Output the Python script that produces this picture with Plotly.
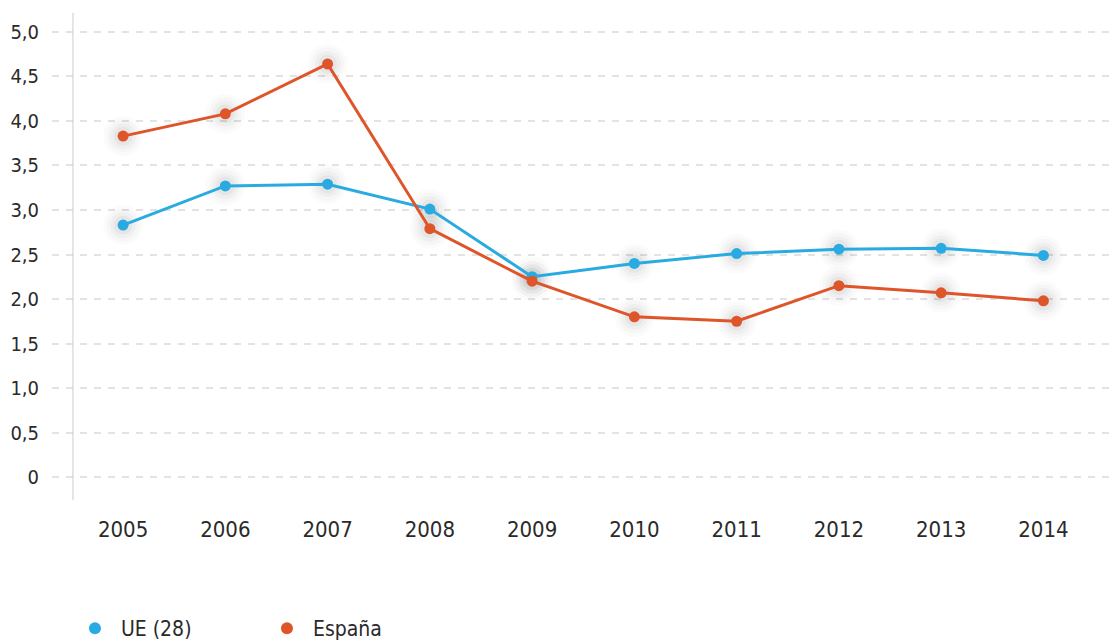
import plotly.graph_objects as go

years = [2005, 2006, 2007, 2008, 2009, 2010, 2011, 2012, 2013, 2014]
ue28 = [2.83, 3.27, 3.29, 3.01, 2.25, 2.40, 2.51, 2.56, 2.57, 2.49]
espana = [3.83, 4.08, 4.64, 2.79, 2.20, 1.80, 1.75, 2.15, 2.07, 1.98]
ytick_vals = [0, 0.5, 1, 1.5, 2, 2.5, 3, 3.5, 4, 4.5, 5]
ytick_text = ["0", "0,5", "1,0", "1,5", "2,0", "2,5", "3,0", "3,5", "4,0", "4,5", "5,0"]

BLUE = "#29abe2"
ORANGE = "#de5529"
FONT = "DejaVu Sans Condensed, Roboto, sans-serif"

fig = go.Figure()

# soft glow behind markers
for vals in (ue28, espana):
    for size, alpha in ((40, 0.014), (33, 0.02), (26, 0.028), (19, 0.035)):
        fig.add_trace(go.Scatter(x=years, y=vals, mode="markers",
                                 marker=dict(size=size, color=f"rgba(0,0,0,{alpha})", line=dict(width=0)),
                                 showlegend=False, hoverinfo="skip"))

fig.add_trace(go.Scatter(x=years, y=ue28, mode="lines+markers", name="UE (28)",
                         line=dict(color=BLUE, width=3),
                         marker=dict(size=11, color=BLUE), showlegend=False))
fig.add_trace(go.Scatter(x=years, y=espana, mode="lines+markers", name="España",
                         line=dict(color=ORANGE, width=3),
                         marker=dict(size=11, color=ORANGE), showlegend=False))

# legend entries (marker only)
fig.add_trace(go.Scatter(x=[None], y=[None], mode="markers", name="\u00a0UE (28)",
                         marker=dict(size=11, color=BLUE)))
fig.add_trace(go.Scatter(x=[None], y=[None], mode="markers", name="\u00a0España",
                         marker=dict(size=11, color=ORANGE)))

fig.add_shape(type="line", xref="x", yref="paper", x0=2004.51, x1=2004.51, y0=0, y1=1,
              line=dict(color="#cccccc", width=1))

fig.update_layout(
    width=1115, height=640,
    margin=dict(l=52, r=0, t=13, b=140, autoexpand=False),
    plot_bgcolor="white", paper_bgcolor="white",
    font=dict(family=FONT, color="#2a2a2a"),
    showlegend=True,
    legend=dict(orientation="h", x=0.0216, xanchor="left", y=-0.2218, yanchor="top",
                font=dict(size=21, color="#2a2a2a"), entrywidth=147, entrywidthmode="pixels",
                itemsizing="constant"),
    xaxis=dict(range=[2004.305, 2014.70], tickvals=years, ticktext=[str(y) for y in years],
               showgrid=False, zeroline=False, showline=False, ticks="", automargin=False,
               tickfont=dict(size=22, color="#2a2a2a"), ticklabelstandoff=14),
    yaxis=dict(range=[-0.258, 5.213], tickvals=ytick_vals, ticktext=ytick_text,
               showgrid=True, gridcolor="#e3e3e3", gridwidth=2, griddash="7px,7px",
               zeroline=False, showline=False, ticks="", automargin=False,
               tickfont=dict(size=20, color="#2a2a2a"), ticklabelstandoff=12),
)

fig.write_html("out.html", config={"displayModeBar": False},
               post_script="document.body.style.margin='0';document.body.style.overflow='hidden';")
